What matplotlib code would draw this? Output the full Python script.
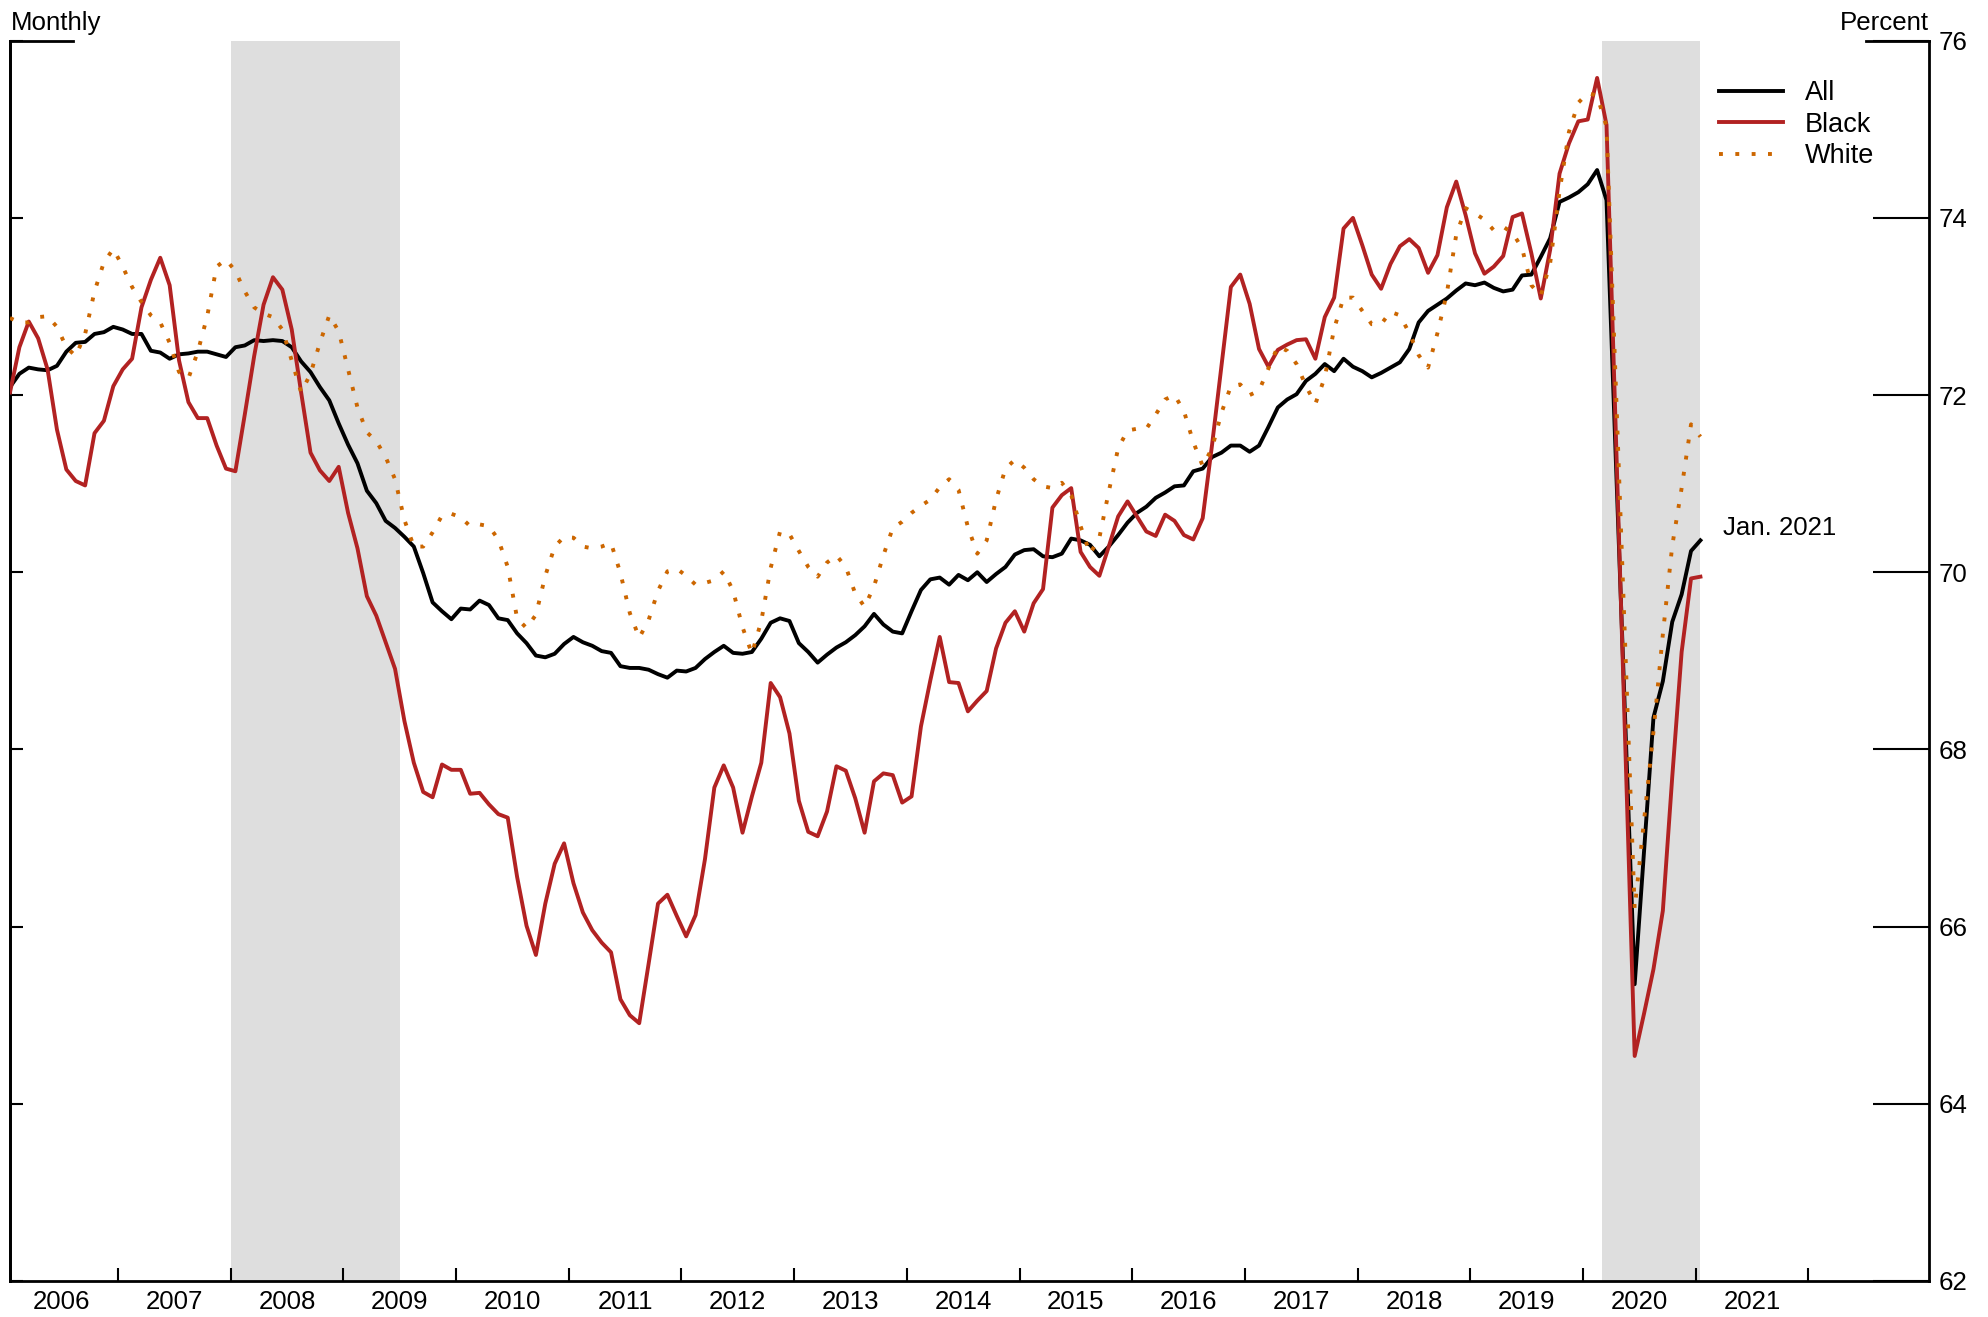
import numpy as np
import matplotlib.pyplot as plt
from matplotlib.lines import Line2D

# monthly series, Jan 2006 .. Jan 2021 (one row per year)
all_workers = [
    72.09, 72.24, 72.31, 72.29, 72.28, 72.33, 72.49, 72.59, 72.60, 72.69, 72.71, 72.77,
    72.74, 72.69, 72.69, 72.50, 72.48, 72.41, 72.46, 72.47, 72.49, 72.49, 72.46, 72.43,
    72.54, 72.56, 72.62, 72.61, 72.62, 72.61, 72.54, 72.38, 72.26, 72.09, 71.94, 71.68,
    71.44, 71.23, 70.92, 70.78, 70.58, 70.50, 70.40, 70.29, 69.99, 69.66, 69.56, 69.47,
    69.59, 69.58, 69.68, 69.63, 69.48, 69.46, 69.31, 69.20, 69.06, 69.04, 69.08, 69.19,
    69.27, 69.21, 69.17, 69.11, 69.09, 68.94, 68.92, 68.92, 68.90, 68.85, 68.81, 68.89,
    68.88, 68.92, 69.02, 69.10, 69.17, 69.09, 69.08, 69.10, 69.25, 69.43, 69.48, 69.45,
    69.20, 69.10, 68.98, 69.07, 69.15, 69.21, 69.29, 69.39, 69.53, 69.41, 69.33, 69.31,
    69.56, 69.80, 69.92, 69.94, 69.86, 69.97, 69.91, 70.00, 69.89, 69.98, 70.06, 70.20,
    70.25, 70.26, 70.18, 70.17, 70.21, 70.38, 70.36, 70.31, 70.18, 70.29, 70.42, 70.56,
    70.67, 70.74, 70.84, 70.90, 70.97, 70.98, 71.14, 71.17, 71.30, 71.35, 71.43, 71.43,
    71.36, 71.43, 71.64, 71.86, 71.95, 72.01, 72.16, 72.24, 72.35, 72.27, 72.41, 72.32,
    72.27, 72.20, 72.25, 72.31, 72.37, 72.52, 72.82, 72.95, 73.02, 73.09, 73.18, 73.26,
    73.24, 73.27, 73.21, 73.17, 73.19, 73.35, 73.36, 73.56, 73.77, 74.18, 74.23, 74.29,
    74.38, 74.54, 74.20, 71.25, 68.30, 65.35, 66.85, 68.36, 68.77, 69.44, 69.75, 70.24,
    70.36,
]

black_workers = [
    72.03, 72.54, 72.83, 72.64, 72.29, 71.61, 71.16, 71.03, 70.98, 71.57, 71.71, 72.10,
    72.29, 72.41, 72.99, 73.30, 73.55, 73.24, 72.39, 71.92, 71.74, 71.74, 71.43, 71.17,
    71.14, 71.78, 72.44, 73.02, 73.33, 73.19, 72.74, 72.03, 71.35, 71.15, 71.03, 71.19,
    70.67, 70.27, 69.73, 69.51, 69.21, 68.91, 68.32, 67.85, 67.52, 67.46, 67.83, 67.77,
    67.77, 67.50, 67.51, 67.38, 67.27, 67.23, 66.56, 66.01, 65.68, 66.26, 66.71, 66.94,
    66.49, 66.16, 65.96, 65.82, 65.71, 65.18, 65.00, 64.91, 65.58, 66.26, 66.36, 66.12,
    65.89, 66.13, 66.76, 67.57, 67.82, 67.57, 67.06, 67.47, 67.85, 68.75, 68.59, 68.18,
    67.42, 67.07, 67.02, 67.30, 67.81, 67.76, 67.45, 67.06, 67.64, 67.73, 67.71, 67.40,
    67.47, 68.26, 68.78, 69.27, 68.76, 68.75, 68.43, 68.55, 68.66, 69.14, 69.43, 69.56,
    69.33, 69.65, 69.81, 70.73, 70.87, 70.95, 70.23, 70.06, 69.96, 70.29, 70.63, 70.80,
    70.63, 70.46, 70.41, 70.65, 70.58, 70.42, 70.37, 70.61, 71.44, 72.33, 73.22, 73.36,
    73.03, 72.52, 72.32, 72.51, 72.57, 72.62, 72.63, 72.41, 72.88, 73.10, 73.88, 74.00,
    73.69, 73.36, 73.20, 73.48, 73.68, 73.76, 73.66, 73.38, 73.58, 74.12, 74.41, 74.03,
    73.60, 73.37, 73.45, 73.57, 74.01, 74.05, 73.60, 73.09, 73.64, 74.50, 74.84, 75.09,
    75.11, 75.58, 75.05, 71.55, 68.05, 64.54, 65.02, 65.52, 66.18, 67.69, 69.10, 69.93,
    69.95,
]

white_workers = [
    72.87, 72.82, 72.82, 72.88, 72.89, 72.77, 72.54, 72.44, 72.69, 73.17, 73.50, 73.65,
    73.45, 73.22, 73.05, 72.90, 72.82, 72.59, 72.26, 72.19, 72.49, 72.89, 73.45, 73.53,
    73.40, 73.17, 72.99, 72.92, 72.88, 72.74, 72.39, 72.03, 72.24, 72.59, 72.90, 72.72,
    72.29, 71.86, 71.58, 71.48, 71.30, 71.05, 70.59, 70.29, 70.29, 70.45, 70.64, 70.66,
    70.62, 70.52, 70.54, 70.52, 70.37, 70.06, 69.48, 69.37, 69.52, 69.96, 70.29, 70.40,
    70.39, 70.29, 70.27, 70.29, 70.33, 69.99, 69.54, 69.26, 69.46, 69.79, 70.01, 70.04,
    69.96, 69.86, 69.88, 69.91, 70.01, 69.79, 69.38, 69.08, 69.45, 70.05, 70.46, 70.43,
    70.24, 70.06, 69.95, 70.11, 70.19, 70.06, 69.76, 69.61, 69.84, 70.19, 70.50, 70.57,
    70.67, 70.75, 70.82, 70.96, 71.05, 70.93, 70.51, 70.21, 70.36, 70.82, 71.17, 71.27,
    71.18, 71.05, 70.97, 70.95, 71.01, 70.87, 70.52, 70.21, 70.39, 70.91, 71.40, 71.60,
    71.62, 71.62, 71.78, 71.95, 72.00, 71.82, 71.47, 71.20, 71.40, 71.80, 72.10, 72.12,
    72.00, 72.05, 72.30, 72.55, 72.50, 72.35, 72.10, 71.90, 72.20, 72.75, 73.10, 73.10,
    72.95, 72.80, 72.80, 72.94, 72.90, 72.70, 72.45, 72.31, 72.70, 73.15, 73.81, 74.11,
    74.05, 73.98, 73.86, 73.90, 73.83, 73.66, 73.24, 73.12, 73.49, 74.30, 74.97, 75.30,
    75.41, 75.38, 75.03, 72.09, 69.15, 66.20, 67.20, 68.20, 69.30, 70.30, 70.95, 71.67,
    71.53,
]

start_year = 2006
year_labels = [str(y) for y in range(2006, 2022)]
recessions = [(2008.0, 2009.5), (2020.17, 2021.04)]
y_ticks = [62, 64, 66, 68, 70, 72, 74, 76]

FONT = "Liberation Sans"
W, H = 1988, 1317
LW = 2.8
DOTS = (0, (1, 3.2))
FS = 18.6


def main():
    plt.rcParams["font.family"] = [FONT, "DejaVu Sans"]
    fig = plt.figure(figsize=(W / 100, H / 100), dpi=100)
    ax = fig.add_axes([10 / W, 1 - 1281 / H, 1919 / W, 1240.3 / H])

    x = start_year + (np.arange(len(all_workers)) + 0.5) / 12

    for a, b in recessions:
        ax.axvspan(a, b, color="#dedede", lw=0, zorder=0)

    ax.plot(x, all_workers, color="black", lw=LW, label="All", zorder=3)
    ax.plot(x, black_workers, color="#b22222", lw=LW, label="Black", zorder=4)
    ax.plot(x, white_workers, color="#cc6600", lw=LW, linestyle=DOTS,
            label="White", zorder=5)

    ax.set_xlim(start_year + 0.5 / 12, 2023.07)
    ax.set_ylim(62, 76)

    # spines: no top line, only short stubs at the corners
    ax.spines["top"].set_visible(False)
    for s in ["left", "right", "bottom"]:
        ax.spines[s].set_linewidth(2.0)
    stub = 63 / 1919
    ax.plot([0, stub], [1, 1], transform=ax.transAxes, color="black", lw=2.0,
            clip_on=False, solid_capstyle="projecting")
    ax.plot([1 - stub, 1], [1, 1], transform=ax.transAxes, color="black", lw=2.0,
            clip_on=False, solid_capstyle="projecting")

    # x axis: year boundary ticks, labels centred within each year
    ax.set_xticks(np.arange(2007, 2023))
    ax.set_xticks(np.arange(2006, 2022) + 0.5, minor=True)
    ax.set_xticklabels([])
    ax.set_xticklabels(year_labels, minor=True)
    ax.tick_params(axis="x", which="major", direction="in", length=9.5, width=1.5)
    ax.tick_params(axis="x", which="minor", length=0, pad=6.5, labelsize=FS)

    # y axis: labels on the right, long inward ticks
    ax.set_yticks(y_ticks)
    ax.yaxis.tick_right()
    ax.tick_params(axis="y", direction="in", length=40, width=1.5, pad=7,
                   labelsize=FS, left=False, right=True)
    left = ax.secondary_yaxis("left")
    left.set_yticks(y_ticks)
    left.set_yticklabels([])
    left.tick_params(direction="in", length=9.5, width=1.5)
    left.spines["left"].set_linewidth(2.0)

    ax.text(x[-1] + 0.2, all_workers[-1] + 0.14, "Jan. 2021", fontsize=FS,
            va="center", ha="left")

    handles = [
        Line2D([], [], color="black", lw=LW),
        Line2D([], [], color="#b22222", lw=LW),
        Line2D([], [], color="#cc6600", lw=LW, linestyle=DOTS),
    ]
    ax.legend(handles, ["All", "Black", "White"], loc="upper left",
              bbox_to_anchor=(1719 / W, 1 - 80 / H), bbox_transform=fig.transFigure,
              frameon=False, fontsize=19.5, borderpad=0, borderaxespad=0,
              handlelength=2.36, handletextpad=0.8, labelspacing=0.21)

    fig.text(11 / W, 1 - 30 / H, "Monthly", fontsize=FS, va="baseline", ha="left")
    fig.text(1929 / W, 1 - 30 / H, "Percent", fontsize=FS, va="baseline", ha="right")

    fig.savefig("out.png", dpi=100)


if __name__ == "__main__":
    main()
